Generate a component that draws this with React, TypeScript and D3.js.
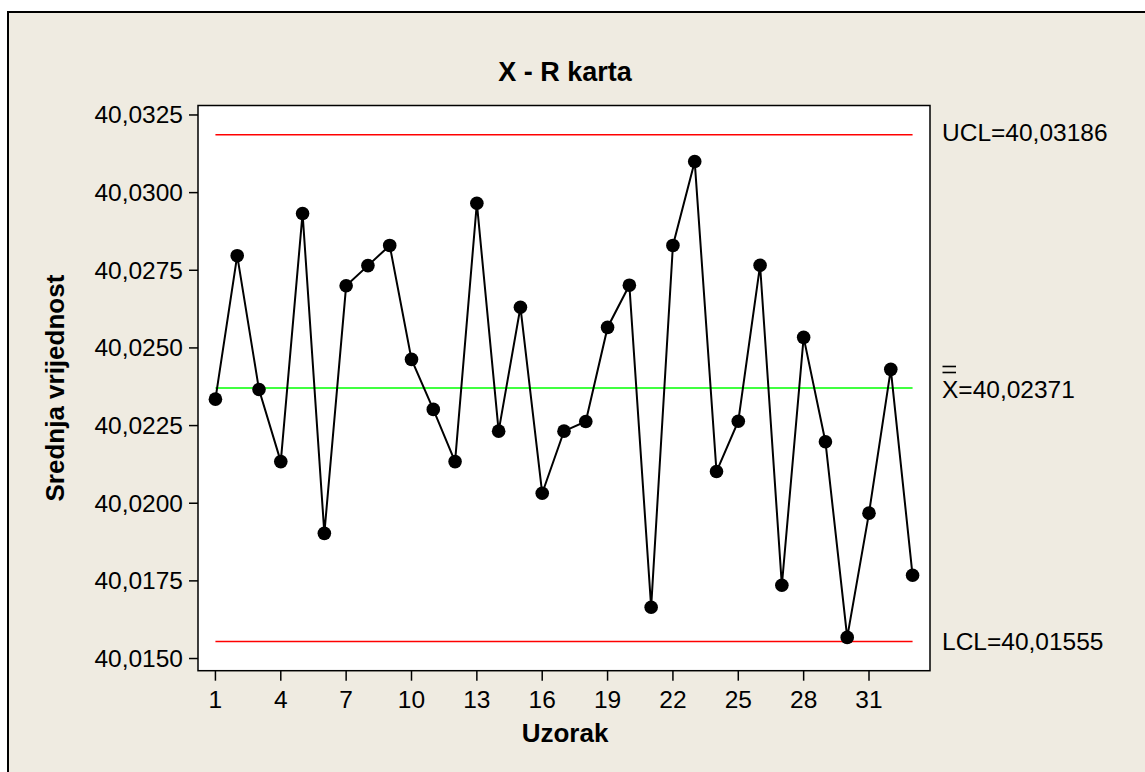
import React from "react";
import * as d3 from "d3";

// ---- data ----
const samples: number[] = d3.range(1, 34);
const means: number[] = [
  40.02335, 40.02797, 40.02366, 40.02134, 40.02933, 40.01903, 40.027, 40.02765,
  40.0283, 40.02463, 40.02302, 40.02134, 40.02966, 40.02232, 40.02631, 40.02032,
  40.02232, 40.02263, 40.02566, 40.02702, 40.01665, 40.0283, 40.031, 40.02102,
  40.02264, 40.02766, 40.01736, 40.02534, 40.02198, 40.01568, 40.01968, 40.02431,
  40.01768,
];
const UCL = 40.03186;
const CL = 40.02371;
const LCL = 40.01555;
const xTicks: number[] = [1, 4, 7, 10, 13, 16, 19, 22, 25, 28, 31];
const yTicks: number[] = [40.015, 40.0175, 40.02, 40.0225, 40.025, 40.0275, 40.03, 40.0325];
const yTickLabels: string[] = yTicks.map((v) => v.toFixed(4).replace(".", ","));
const title = "X - R karta";
const xLabel = "Uzorak";
const yLabel = "Srednja vrijednost";
const uclLabel = "UCL=40,03186";
const clLabel = "X=40,02371";
const lclLabel = "LCL=40,01555";

const W = 1145;
const H = 772;
const plot = { left: 198, right: 930, top: 105.5, bottom: 670.7 };
const FONT = "'Liberation Sans', Arial, sans-serif";

export default function App() {
  const x = d3.scaleLinear().domain([0.2, 33.8]).range([plot.left, plot.right]);
  const y = d3
    .scaleLinear()
    .domain([40.014608, 40.032805])
    .range([plot.bottom, plot.top]);

  const line = d3
    .line<number>()
    .x((_, i) => x(samples[i]))
    .y((d) => y(d));

  const x0 = x(samples[0]);
  const x1 = x(samples[samples.length - 1]);
  const clY = y(CL);

  return (
    <svg
      width={W}
      height={H}
      style={{ position: "absolute", left: 0, top: 0, display: "block" }}
      fontFamily={FONT}
    >
      <rect x={0} y={0} width={W} height={H} fill="#ffffff" />
      <rect x={8} y={12} width={W} height={H} fill="#EFEBE1" stroke="#000" strokeWidth={2} />
      <rect
        x={plot.left}
        y={plot.top}
        width={plot.right - plot.left}
        height={plot.bottom - plot.top}
        fill="#ffffff"
        stroke="#000"
        strokeWidth={1.5}
      />

      {/* control lines */}
      <line x1={x0} x2={x1} y1={y(UCL)} y2={y(UCL)} stroke="#FF0000" strokeWidth={1.5} />
      <line x1={x0} x2={x1} y1={y(LCL)} y2={y(LCL)} stroke="#FF0000" strokeWidth={1.5} />
      <line x1={x0} x2={x1} y1={clY} y2={clY} stroke="#00FF00" strokeWidth={1.5} />

      {/* data */}
      <path d={line(means) || ""} fill="none" stroke="#000" strokeWidth={2} />
      {means.map((v, i) => (
        <circle key={i} cx={x(samples[i])} cy={y(v)} r={6.8} fill="#000" />
      ))}

      {/* y axis */}
      {yTicks.map((t, i) => (
        <g key={t}>
          <line x1={plot.left - 9} x2={plot.left} y1={y(t)} y2={y(t)} stroke="#000" strokeWidth={1.5} />
          <text
            x={plot.left - 15}
            y={y(t)}
            textAnchor="end"
            dominantBaseline="central"
            fontSize={24.5}
            fill="#000"
          >
            {yTickLabels[i]}
          </text>
        </g>
      ))}

      {/* x axis */}
      {xTicks.map((t) => (
        <g key={t}>
          <line x1={x(t)} x2={x(t)} y1={plot.bottom} y2={plot.bottom + 10} stroke="#000" strokeWidth={1.5} />
          <text x={x(t)} y={707.5} textAnchor="middle" fontSize={24.5} fill="#000">
            {t}
          </text>
        </g>
      ))}

      {/* labels */}
      <text x={565} y={81} textAnchor="middle" fontSize={27} fontWeight="bold" fill="#000">
        {title}
      </text>
      <text x={565} y={741.5} textAnchor="middle" fontSize={26} fontWeight="bold" fill="#000">
        {xLabel}
      </text>
      <text
        transform={`translate(64, ${(plot.top + plot.bottom) / 2}) rotate(-90)`}
        textAnchor="middle"
        fontSize={26}
        fontWeight="bold"
        fill="#000"
      >
        {yLabel}
      </text>

      {/* right labels */}
      <text x={942} y={y(UCL) - 2} dominantBaseline="central" fontSize={24.5} fill="#000">
        {uclLabel}
      </text>
      {/* double bar over X */}
      <line x1={942.5} x2={956} y1={clY - 21.5} y2={clY - 21.5} stroke="#000" strokeWidth={1.6} />
      <line x1={942.5} x2={956} y1={clY - 15.5} y2={clY - 15.5} stroke="#000" strokeWidth={1.6} />
      <text x={942} y={clY + 1.5} dominantBaseline="central" fontSize={24.5} fill="#000">
        {clLabel}
      </text>
      <text x={942} y={y(LCL)} dominantBaseline="central" fontSize={24.5} fill="#000">
        {lclLabel}
      </text>
    </svg>
  );
}
